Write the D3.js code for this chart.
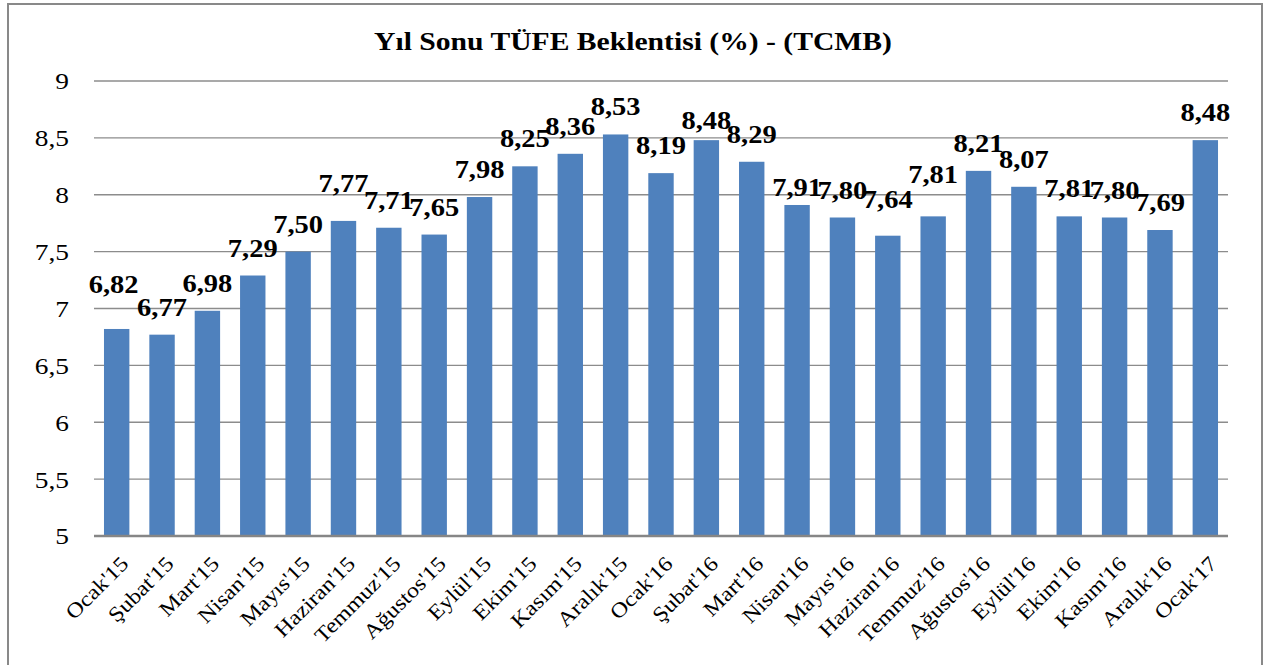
<!DOCTYPE html>
<html>
<head>
<meta charset="utf-8">
<script src="https://cdn.jsdelivr.net/npm/d3@7"></script>
<style>
  html, body { margin: 0; padding: 0; background: #fff; }
  svg { display: block; }
</style>
</head>
<body>
<svg id="chart" width="1267" height="665"></svg>
<script>
const categories = ["Ocak'15","Şubat'15","Mart'15","Nisan'15","Mayıs'15","Haziran'15","Temmuz'15","Ağustos'15","Eylül'15","Ekim'15","Kasım'15","Aralık'15","Ocak'16","Şubat'16","Mart'16","Nisan'16","Mayıs'16","Haziran'16","Temmuz'16","Ağustos'16","Eylül'16","Ekim'16","Kasım'16","Aralık'16","Ocak'17"];
const values = [6.82,6.77,6.98,7.29,7.50,7.77,7.71,7.65,7.98,8.25,8.36,8.53,8.19,8.48,8.29,7.91,7.80,7.64,7.81,8.21,8.07,7.81,7.80,7.69,8.48];
const yTicks = [5,5.5,6,6.5,7,7.5,8,8.5,9];
const title = "Yıl Sonu TÜFE Beklentisi (%) - (TCMB)";

const serif = "'Palatino Linotype','Book Antiqua',Palatino,'Liberation Serif','DejaVu Serif',serif";
const K = 1.14; // horizontal stretch to mimic the wider Palatino glyphs
const fmt = v => v.toFixed(2).replace(".", ",");
const fmtTick = v => String(v).replace(".", ",");

// hand-placed label nudges as seen in the reference, px
const labelNudge = {0: [-3, -17], 5: [0, -10], 13: [0, 8], 15: [0, 10], 17: [0, -9], 18: [0, -14]};

const svg = d3.select("#chart");
const plot = {left: 94, right: 1228, top: 81, bottom: 536};

// frame
svg.append("rect")
  .attr("x", 8).attr("y", 4).attr("width", 1254).attr("height", 680)
  .attr("fill", "#fff").attr("stroke", "#898989").attr("stroke-width", 2);

const x = d3.scaleBand().domain(categories).range([plot.left, plot.right]).paddingInner(0.44).paddingOuter(0.22);
const y = d3.scaleLinear().domain([5, 9]).range([plot.bottom, plot.top]);

// gridlines
svg.append("g").selectAll("line").data(yTicks.filter(t => t > 5)).join("line")
  .attr("x1", plot.left).attr("x2", plot.right)
  .attr("y1", d => y(d)).attr("y2", d => y(d))
  .attr("stroke", "#8c8c8c").attr("stroke-width", 1.3);

// y axis labels
const yAxis = d3.axisLeft(y).tickValues(yTicks).tickFormat(fmtTick).tickSize(0).tickPadding(0);
const gy = svg.append("g").attr("transform", `translate(69,0)`).call(yAxis);
gy.select(".domain").remove();
gy.selectAll("text")
  .attr("font-family", serif).attr("font-size", 24).attr("fill", "#000")
  .attr("x", 0).attr("dy", "0.33em")
  .attr("transform", `scale(${K},1)`);

// bars
svg.append("g").selectAll("rect").data(values).join("rect")
  .attr("x", (d, i) => x(categories[i]))
  .attr("width", x.bandwidth())
  .attr("y", d => y(d))
  .attr("height", d => y(5) - y(d))
  .attr("fill", "#4F81BD");

// x axis baseline
svg.append("line")
  .attr("x1", plot.left).attr("x2", plot.right)
  .attr("y1", y(5)).attr("y2", y(5))
  .attr("stroke", "#868686").attr("stroke-width", 2.5);

// x labels
const xAxis = d3.axisBottom(x).tickSize(0).tickPadding(0);
const gx = svg.append("g").attr("transform", `translate(0,${y(5)})`).call(xAxis);
gx.select(".domain").remove();
gx.selectAll("text")
  .attr("font-family", serif).attr("font-size", 21).attr("fill", "#000")
  .attr("text-anchor", "end")
  .attr("y", 0).attr("x", 0).attr("dy", 0)
  .attr("transform", `translate(13,29) rotate(-45) scale(${K},1)`);

// data labels
svg.append("g").selectAll("text").data(values).join("text")
  .attr("transform", (d, i) => {
    const nx = labelNudge[i] ? labelNudge[i][0] : 0;
    const ny = labelNudge[i] ? labelNudge[i][1] : 0;
    return `translate(${x(categories[i]) + x.bandwidth() / 2 + nx},${y(d) - 19 + ny}) scale(${K},1)`;
  })
  .attr("text-anchor", "middle")
  .attr("font-family", serif).attr("font-weight", "bold").attr("font-size", 25)
  .attr("fill", "#000")
  .text(d => fmt(d));

// title
svg.append("text")
  .attr("transform", `translate(633,50) scale(${K},1)`)
  .attr("text-anchor", "middle")
  .attr("font-family", serif).attr("font-weight", "bold").attr("font-size", 26)
  .attr("fill", "#000")
  .text(title);
</script>
</body>
</html>
